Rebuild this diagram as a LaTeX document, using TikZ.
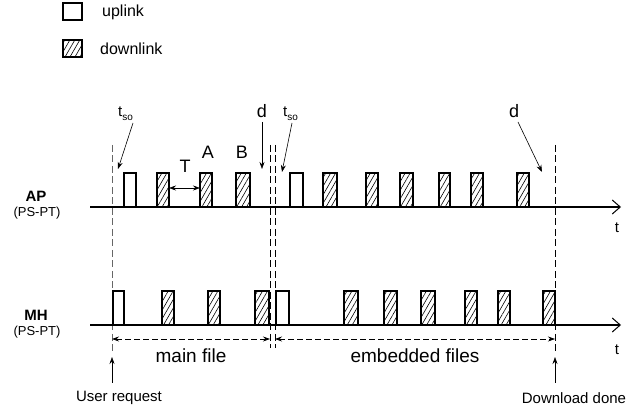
\documentclass[tikz,border=0pt]{standalone}
\usepackage{fontspec}
\setmainfont{Liberation Sans}
\usetikzlibrary{arrows.meta,patterns.meta}
\begin{document}
\begin{tikzpicture}[x=1pt,y=-1pt,
  pulse/.style={draw,line width=1.1pt,fill=white},
  dpulse/.style={draw,line width=1.1pt,pattern={Lines[angle=60,distance=4.3pt,line width=0.6pt]}},
  axis/.style={line width=1.2pt,-{Straight Barb[length=8pt,width=14pt,line width=1pt]}},
  vdash/.style={dash pattern=on 7pt off 3.5pt,line width=0.8pt},
  ptr/.style={line width=0.6pt,-{Stealth[length=7pt,width=5pt]}},
  dim/.style={dash pattern=on 6pt off 3pt,line width=0.7pt,{Stealth[length=7pt,width=5pt]}-{Stealth[length=7pt,width=5pt]}},
  huge/.style={font=\fontsize{19}{19}\selectfont,inner sep=0pt},
  big/.style={font=\fontsize{18}{18}\selectfont,inner sep=0pt},
  mid/.style={font=\fontsize{15}{15}\selectfont,inner sep=0pt},
  leg/.style={font=\fontsize{16}{16}\selectfont,inner sep=0pt},
  sml/.style={font=\fontsize{13}{13}\selectfont,inner sep=0pt},
  bold/.style={font=\fontsize{15}{15}\selectfont\bfseries,inner sep=0pt},
]
\fill[white] (0,0) rectangle (632,419);
\useasboundingbox (0,0) rectangle (632,419);
% legend
\draw[pulse] (63,3) rectangle (82,20);
\node[leg,anchor=west] (lup) at (102,12) {uplink};
\draw[dpulse] (63,40) rectangle (82,57);
\node[leg,anchor=west] (ldn) at (100,49) {downlink};
% axes
\coordinate (apS) at (90,207);
\coordinate (apE) at (621,207);
\coordinate (mhS) at (90,325);
\coordinate (mhE) at (621,325);
\draw[axis] (apS) -- (apE);
\draw[axis] (mhS) -- (mhE);
\node[mid] (tap) at (617,228) {t};
\node[mid] (tmh) at (617,350) {t};
\node[bold] (ap) at (36,196) {AP};
\node[sml] (appp) at (37,213) {(PS-PT)};
\node[bold] (mh) at (36,315) {MH};
\node[sml] (mhpp) at (37,332) {(PS-PT)};
% vertical dashed lines
\draw[vdash,black!60] (112,145) -- (112,352);
\draw[vdash] (270,145) -- (270,348);
\draw[vdash] (275,145) -- (275,348);
\draw[vdash] (555,145) -- (555,352);
% AP pulses
\foreach \a/\b in {124/136,290/303} \draw[pulse] (\a,207) rectangle (\b,173);
\foreach \a/\b in {157/169,200/212,236/250,323/337,366/378,400/413,439/450,471/483,517/529}
  \draw[dpulse] (\a,207) rectangle (\b,173);
% MH pulses
\foreach \a/\b in {113/124,276/289} \draw[pulse] (\a,325) rectangle (\b,291);
\foreach \a/\b in {162/174,208/220,255/269,344/358,384/397,421/435,465/477,498/510,543/555}
  \draw[dpulse] (\a,325) rectangle (\b,291);
% labels above AP
\node[big] (T) at (185,166) {T};
\coordinate (T1) at (169,188);
\coordinate (T2) at (200,188);
\draw[line width=0.6pt,{Stealth[length=7pt,width=5pt]}-{Stealth[length=7pt,width=5pt]}] (T1) -- (T2);
\node[big] (A) at (208,152) {A};
\node[big] (B) at (242,152) {B};
\node[mid,anchor=south west] (ts1) at (118,121) {t\raisebox{-4pt}{\fontsize{10}{10}\selectfont so}};
\coordinate (ts1s) at (133,123);
\coordinate (ts1e) at (118,169);
\draw[ptr] (ts1s) -- (ts1e);
\node[big] (d1) at (262,111) {d};
\coordinate (d1s) at (262,122);
\coordinate (d1e) at (262,169);
\draw[ptr] (d1s) -- (d1e);
\node[mid,anchor=south west] (ts2) at (283,121) {t\raisebox{-4pt}{\fontsize{10}{10}\selectfont so}};
\coordinate (ts2s) at (292,123);
\coordinate (ts2e) at (282,172);
\draw[ptr] (ts2s) -- (ts2e);
\node[big] (d2) at (514,111) {d};
\coordinate (d2s) at (518,122);
\coordinate (d2e) at (542,172);
\draw[ptr] (d2s) -- (d2e);
% dimension lines
\coordinate (m1) at (112,339);
\coordinate (m2) at (270,339);
\coordinate (e1) at (275,339);
\coordinate (e2) at (555,339);
\draw[dim] (m1) -- (m2);
\draw[dim] (e1) -- (e2);
\node[huge] (mf) at (191,356) {main file};
\node[huge] (ef) at (415,356) {embedded files};
% bottom events
\node[mid] (ur) at (119,398) {User request};
\node[mid] (dd) at (574,398) {Download done};
\coordinate (urB) at (112,383);
\coordinate (urT) at (112,357);
\coordinate (ddB) at (555,383);
\coordinate (ddT) at (555,357);
\draw[ptr] (urB) -- (urT);
\draw[ptr] (ddB) -- (ddT);
\end{tikzpicture}
\end{document}
